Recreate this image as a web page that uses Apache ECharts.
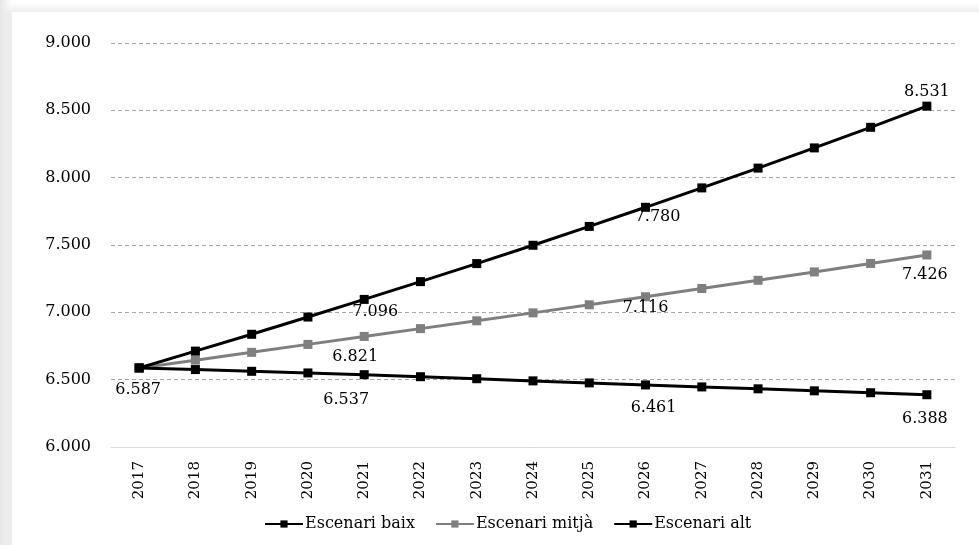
<!DOCTYPE html>
<html>
<head>
<meta charset="utf-8">
<script src="https://cdn.jsdelivr.net/npm/echarts@6/dist/echarts.min.js"></script>
<style>
  html, body { margin: 0; padding: 0; background: #ffffff; overflow: hidden; }
  #shade { position: absolute; left: 0; top: 0; width: 979px; height: 545px;
           background: linear-gradient(to right, #e6e6e6, #ffffff 12px); }
  #frame { position: absolute; left: 12px; top: 12px; width: 979px; height: 545px;
           background: #ffffff; box-shadow: -3px -3px 8px rgba(0,0,0,0.10); }
  #chart { position: absolute; left: 0; top: 0; width: 979px; height: 545px; }
</style>
</head>
<body>
<div id="shade"></div>
<div id="frame"></div>
<div id="chart"></div>
<script>
const years = ['2017','2018','2019','2020','2021','2022','2023','2024','2025','2026','2027','2028','2029','2030','2031'];
const seriesNames = ['Escenari baix', 'Escenari mitjà', 'Escenari alt'];
const baix  = [6587, 6575, 6562, 6550, 6537, 6522, 6507, 6491, 6476, 6461, 6446, 6432, 6417, 6403, 6388];
const mitja = [6587, 6645, 6703, 6762, 6821, 6879, 6937, 6996, 7056, 7116, 7177, 7238, 7300, 7363, 7426];
const alt   = [6587, 6712, 6837, 6965, 7096, 7228, 7362, 7498, 7638, 7780, 7924, 8071, 8221, 8374, 8531];
const yTicks = [6000, 6500, 7000, 7500, 8000, 8500, 9000];

// which points carry a value label, per series
const labelIdx = [[0, 4, 9, 14], [4, 9, 14], [4, 9, 14]];
// label offsets (style only) per series, matching labelIdx
const labelOff = [
  [[-1, 22], [-18, 25], [8, 23], [-2, 24]],
  [[-9, 20], [0, 11], [-2, 20]],
  [[11, 12], [12, 10], [0, -14]]
];
const colors = ['#000000', '#7f7f7f', '#000000'];
const FONT = 'DejaVu Serif';

function fmt(v) {
  const s = String(Math.round(v));
  return s.replace(/\B(?=(\d{3})+(?!\d))/g, '.');
}

function buildData(values, si) {
  return values.map((v, i) => {
    const k = labelIdx[si].indexOf(i);
    if (k < 0) return { value: v };
    return {
      value: v,
      label: {
        show: true,
        position: 'inside',
        offset: labelOff[si][k],
        formatter: p => fmt(p.value),
        color: '#000',
        fontFamily: FONT,
        fontSize: 16
      }
    };
  });
}

const allValues = [baix, mitja, alt];

const chart = echarts.init(document.getElementById('chart'), null, { renderer: 'canvas' });
chart.setOption({
  backgroundColor: 'transparent',
  animation: false,
  grid: { left: 111, right: 24, top: 43, bottom: 98, containLabel: false },
  legend: {
    bottom: 8,
    left: 259,
    itemWidth: 38,
    itemHeight: 9,
    itemGap: 20,
    textStyle: { fontFamily: FONT, fontSize: 16, color: '#000', padding: [0, 0, 0, -3] },
    data: seriesNames
  },
  xAxis: {
    type: 'category',
    data: years,
    boundaryGap: true,
    axisLine: { show: true, lineStyle: { color: '#d9d9d9', width: 1 } },
    axisTick: { show: false },
    axisLabel: { rotate: 90, fontFamily: FONT, fontSize: 15, color: '#000', margin: 14 }
  },
  yAxis: {
    type: 'value',
    min: yTicks[0],
    max: yTicks[yTicks.length - 1],
    interval: 500,
    axisLine: { show: false },
    axisTick: { show: false },
    splitLine: { show: true, lineStyle: { color: '#a6a6a6', type: [4, 3], width: 1 } },
    axisLabel: { fontFamily: FONT, fontSize: 16, color: '#000', margin: 20, formatter: v => fmt(v) }
  },
  series: allValues.map((vals, si) => ({
    name: seriesNames[si],
    type: 'line',
    data: buildData(vals, si),
    symbol: 'rect',
    symbolSize: 9,
    lineStyle: { color: colors[si], width: 3 },
    itemStyle: { color: colors[si] },
    z: si === 1 ? 2 : 3,
    label: { show: false },
    emphasis: { disabled: true }
  }))
});
</script>
</body>
</html>
